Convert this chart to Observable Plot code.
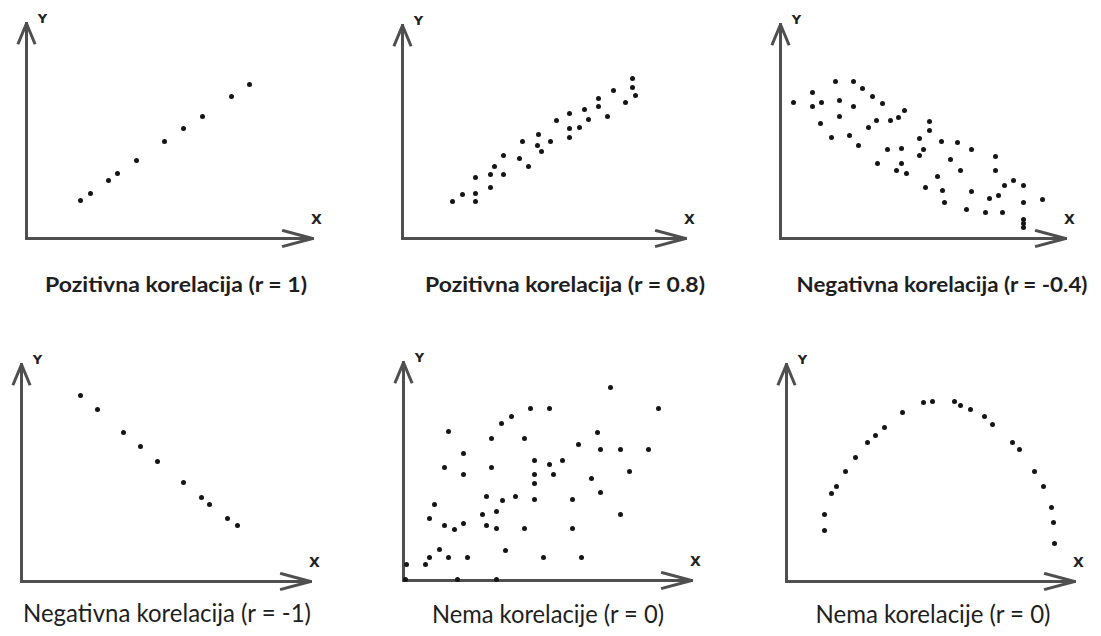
<!DOCTYPE html>
<html><head><meta charset="utf-8">
<script src="https://cdn.jsdelivr.net/npm/d3@7"></script>
<script src="https://cdn.jsdelivr.net/npm/@observablehq/plot@0.6"></script>
<style>
html,body{margin:0;padding:0;background:#fff;}
#chart{position:relative;width:1101px;height:636px;overflow:hidden;background:#fff;}
.panel{position:absolute;}
.cap{position:absolute;white-space:nowrap;color:#1e1e1e;line-height:1;transform-origin:center center;}
</style></head><body><div id="chart"></div>
<script>
const pos1 = [[54,38],[64,45],[82,58],[91,65],[110,78],[138,97],[157,110],[176,122],[205,142],[223,154]];
const pos2 = [[50,37],[60,44],[73,45],[73,37],[73,61],[88,51],[88,64],[92,72],[101,64],[101,83],[117,80],[120,97],[126,72],[136,104],[135,93],[139,87],[148,97],[154,118],[167,125],[167,110],[167,101],[177,111],[182,129],[186,119],[196,140],[196,132],[205,122],[211,148],[223,136],[230,160],[230,151],[233,143]];
const neg04 = [[13,136],[32,146],[32,132],[41,136],[40,115],[51,101],[55,157],[59,138],[59,122],[69,103],[73,157],[73,132],[78,93],[82,150],[88,111],[92,142],[96,118],[97,75],[102,135],[107,89],[110,118],[116,68],[118,121],[121,90],[121,75],[124,128],[126,65],[139,100],[139,83],[143,89],[145,51],[149,117],[149,108],[157,62],[161,97],[162,48],[164,36],[170,79],[177,96],[180,68],[186,29],[191,47],[191,89],[205,26],[209,40],[215,82],[215,68],[218,43],[222,26],[224,53],[233,58],[243,53],[243,36],[243,19],[243,15],[243,11],[262,39]];
const neg1 = [[59,186],[76,172],[102,149],[119,135],[136,120],[162,99],[180,84],[188,77],[206,63],[216,56]];
const none1 = [[207,193],[127,172],[146,172],[255,172],[108,164],[98,157],[45,149],[88,142],[121,142],[194,148],[175,136],[197,131],[217,131],[245,131],[60,127],[41,113],[88,113],[131,120],[146,116],[159,120],[226,109],[60,106],[131,106],[150,106],[188,102],[131,97],[31,76],[83,84],[99,80],[112,84],[131,81],[169,81],[197,88],[26,62],[79,66],[93,69],[217,66],[41,55],[51,51],[60,57],[83,55],[93,52],[121,52],[169,52],[36,31],[102,30],[26,23],[45,23],[64,23],[140,23],[178,23],[22,16],[3,16],[2,1],[54,1],[93,1]];
const none2 = [[38,51],[38,67],[45,88],[50,95],[59,110],[69,124],[81,139],[89,146],[98,154],[116,169],[137,179],[146,180],[168,180],[174,176],[184,172],[198,165],[206,157],[226,139],[233,132],[248,110],[257,95],[265,74],[267,59],[268,38]];
const captions = ["Pozitivna korelacija (r = 1)","Pozitivna korelacija (r = 0.8)","Negativna korelacija (r = -0.4)","Negativna korelacija (r = -1)","Nema korelacije (r = 0)","Nema korelacije (r = 0)"];
const axisLabels = ["X","Y"];

// ---- layout ----
const series = [pos1, pos2, neg04, neg1, none1, none2];
const layout = [
  {ox:25.7, oy:238,   xLen:286, yLen:215},
  {ox:402.3,oy:237.7, xLen:283, yLen:213},
  {ox:780,  oy:237.7, xLen:285, yLen:214},
  {ox:20.7, oy:580.7, xLen:289, yLen:217},
  {ox:403.3,oy:580,   xLen:288, yLen:218},
  {ox:785.7,oy:580.7, xLen:288, yLen:217}
];
const capLayout = [
  {cx:176, cy:284, w:262, size:20, weight:700, sy:1.0},
  {cx:565, cy:284, w:280, size:20, weight:700, sy:1.0},
  {cx:942, cy:284, w:291, size:20, weight:700, sy:1.0},
  {cx:167, cy:612, w:288, size:20, weight:400, sy:1.25},
  {cx:548, cy:613, w:232, size:20, weight:400, sy:1.25},
  {cx:933, cy:613, w:235, size:20, weight:400, sy:1.25}
];
const M = {left:26, right:28, top:23, bottom:17};
const chart = document.getElementById("chart");

series.forEach((pts, i) => {
  const L = layout[i];
  const svg = Plot.plot({
    width: M.left + L.xLen + M.right,
    height: M.top + L.yLen + M.bottom,
    marginLeft: M.left, marginRight: M.right, marginTop: M.top, marginBottom: M.bottom,
    x: {domain: [0, L.xLen], axis: null},
    y: {domain: [0, L.yLen], axis: null},
    style: {background: "transparent", overflow: "visible"},
    marks: [
      Plot.arrow([{x1:0,y1:0,x2:L.xLen,y2:0}], {x1:"x1", y1:"y1", x2:"x2", y2:"y2", stroke:"#4f4f4f", strokeWidth:3, headAngle:30, headLength:15, strokeLinecap:"square"}),
      Plot.arrow([{x1:0,y1:0,x2:0,y2:L.yLen}], {x1:"x1", y1:"y1", x2:"x2", y2:"y2", stroke:"#4f4f4f", strokeWidth:3, headAngle:45, headLength:10.5, strokeLinecap:"square"}),
      Plot.dot(pts, {x: d => d[0], y: d => d[1], r: 2.5, fill: "#151515", stroke: null}),
      Plot.text([axisLabels[0]], {frameAnchor:"bottom-right", dx:4, dy:-19, textAnchor:"middle", lineAnchor:"middle", fontFamily:"DejaVu Sans", fontWeight:"bold", fontSize:14, fill:"#222"}),
      Plot.text([axisLabels[1]], {frameAnchor:"top-left", dx:16, dy:-5, textAnchor:"middle", lineAnchor:"middle", fontFamily:"DejaVu Sans", fontWeight:"bold", fontSize:13, fill:"#222"})
    ]
  });
  svg.classList.add("panel");
  svg.style.left = (L.ox - M.left) + "px";
  svg.style.top = (L.oy - L.yLen - M.top) + "px";
  chart.appendChild(svg);
});

captions.forEach((t, i) => {
  const C = capLayout[i];
  const d = document.createElement("div");
  d.className = "cap";
  d.textContent = t;
  d.style.fontFamily = "Lato, 'Open Sans', sans-serif";
  d.style.fontSize = C.size + "px";
  d.style.fontWeight = C.weight;
  d.style.left = C.cx + "px";
  d.style.top = C.cy + "px";
  chart.appendChild(d);
  const w = d.getBoundingClientRect().width;
  const sx = C.w / w;
  d.style.transform = `translate(-50%,-50%) scale(${sx},${C.sy})`;
});
</script></body></html>
